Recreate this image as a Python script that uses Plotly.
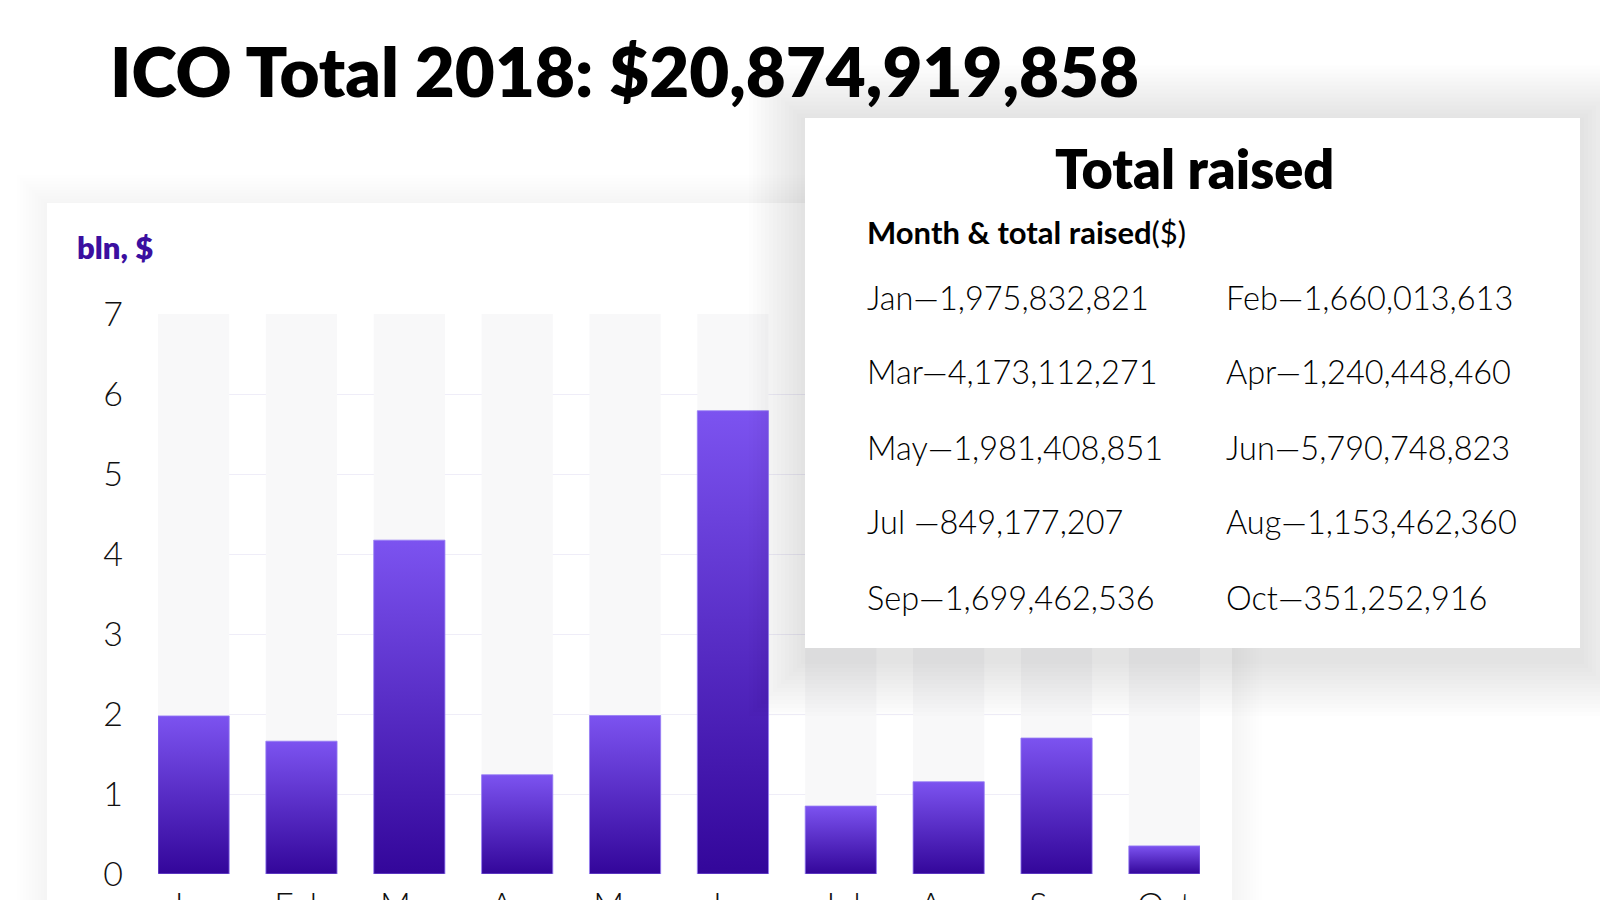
import plotly.graph_objects as go

# ---- data ----
months = ["Jan", "Feb", "Mar", "Apr", "May", "Jun", "Jul", "Aug", "Sep", "Oct"]
raised = [1975832821, 1660013613, 4173112271, 1240448460, 1981408851,
          5790748823, 849177207, 1153462360, 1699462536, 351252916]
separators = ["—", "—", "—", "—", "—", "—", " —", "—", "—", "—"]
y_ticks = [0, 1, 2, 3, 4, 5, 6, 7]
y_max = 7
title_text = "ICO Total 2018: $20,874,919,858"
unit_label = "bln, $"
panel_title = "Total raised"
panel_sub_bold = "Month & total raised"
panel_sub_reg = "($)"

values_bln = [v / 1e9 for v in raised]

# ---- layout geometry (pixels) ----
W, H = 1600, 900
PL, PR, PT, PB = 158, 1200, 314, 874
BW = 0.66  # bar width in category units

def px(x):
    return (x - PL) / (PR - PL)

def py(y):
    return (PB - y) / (PB - PT)

FONT = "Lato"
DARK = "#33069a"
LIGHT = "#7c53f0"

fig = go.Figure()

# background columns
fig.add_trace(go.Bar(
    x=list(range(len(months))), y=[y_max] * len(months), width=BW,
    marker=dict(color="#f8f8f9", line=dict(width=0)),
    hoverinfo="skip", showlegend=False))

# gradient bars (one filled polygon per bar, derived from the data)
for i, v in enumerate(values_bln):
    x0, x1 = i - BW / 2, i + BW / 2
    fig.add_trace(go.Scatter(
        x=[x0, x0, x1, x1, x0], y=[0, v, v, 0, 0],
        mode="lines", fill="toself",
        fillgradient=dict(type="vertical",
                          colorscale=[[0, DARK], [1, LIGHT]]),
        line=dict(color="rgba(150,125,245,0.8)", width=1),
        hoverinfo="skip", showlegend=False))

shapes = []

def card(x0, y0, x1, y1, layer, n, step, alpha, dy):
    for k in range(n, 0, -1):
        e = k * step
        shapes.append(dict(
            type="rect", xref="paper", yref="paper", layer=layer,
            x0=px(x0 - e), x1=px(x1 + e),
            y0=py(y1 + e + dy), y1=py(y0 - e + dy * 0.3),
            fillcolor=f"rgba(0,0,0,{alpha})", line=dict(width=0)))
    shapes.append(dict(
        type="rect", xref="paper", yref="paper", layer=layer,
        x0=px(x0), x1=px(x1), y0=py(y1), y1=py(y0),
        fillcolor="white", line=dict(width=0)))

# chart card (behind the chart)
card(47, 203, 1232, 1000, "below", 10, 3, 0.004, 6)
# legend/panel card (above the chart)
card(805, 118, 1580, 648, "above", 14, 4, 0.0065, 12)

annotations = []

def text(x, y, s, size, color="#000", weight=400, xanchor="left", family=FONT):
    annotations.append(dict(
        x=px(x), y=py(y), xref="paper", yref="paper", text=s,
        showarrow=False, xanchor=xanchor, yanchor="middle",
        font=dict(family=family, size=size, color=color, weight=weight)))

text(108, 70, title_text, 69, weight=800)
text(75, 247, unit_label, 31, color="#3b0fa0", weight=800)
text(1194, 168, panel_title, 54, weight=800, xanchor="center")
text(865, 232, f"<b>{panel_sub_bold}</b>{panel_sub_reg}", 31, weight=400)

col_x = [865, 1224]
row_y = [297, 371, 447, 521, 597]
for i, (m, v, s) in enumerate(zip(months, raised, separators)):
    text(col_x[i % 2], row_y[i // 2], f"{m}{s}{v:,}", 32.5, weight=300)

fig.update_layout(
    width=W, height=H,
    margin=dict(l=PL, r=W - PR, t=PT, b=H - PB, pad=0, autoexpand=False),
    paper_bgcolor="white", plot_bgcolor="rgba(0,0,0,0)",
    barmode="overlay", showlegend=False,
    shapes=shapes, annotations=annotations,
    xaxis=dict(
        range=[-BW / 2, len(months) - 1 + BW / 2], automargin=False,
        tickmode="array", tickvals=list(range(len(months))), ticktext=months,
        showgrid=False, zeroline=False, showline=False, ticks="",
        ticklabelstandoff=8,
        tickfont=dict(family=FONT, size=34, color="#111", weight=300),
        fixedrange=True),
    yaxis=dict(
        range=[0, y_max], tickmode="array", tickvals=y_ticks, automargin=False,
        showgrid=True, gridcolor="#efedf8", gridwidth=1,
        zeroline=False, showline=False, ticks="",
        ticklabelstandoff=34,
        tickfont=dict(family=FONT, size=34, color="#111", weight=300),
        fixedrange=True),
)

fig.write_html("out.html")
